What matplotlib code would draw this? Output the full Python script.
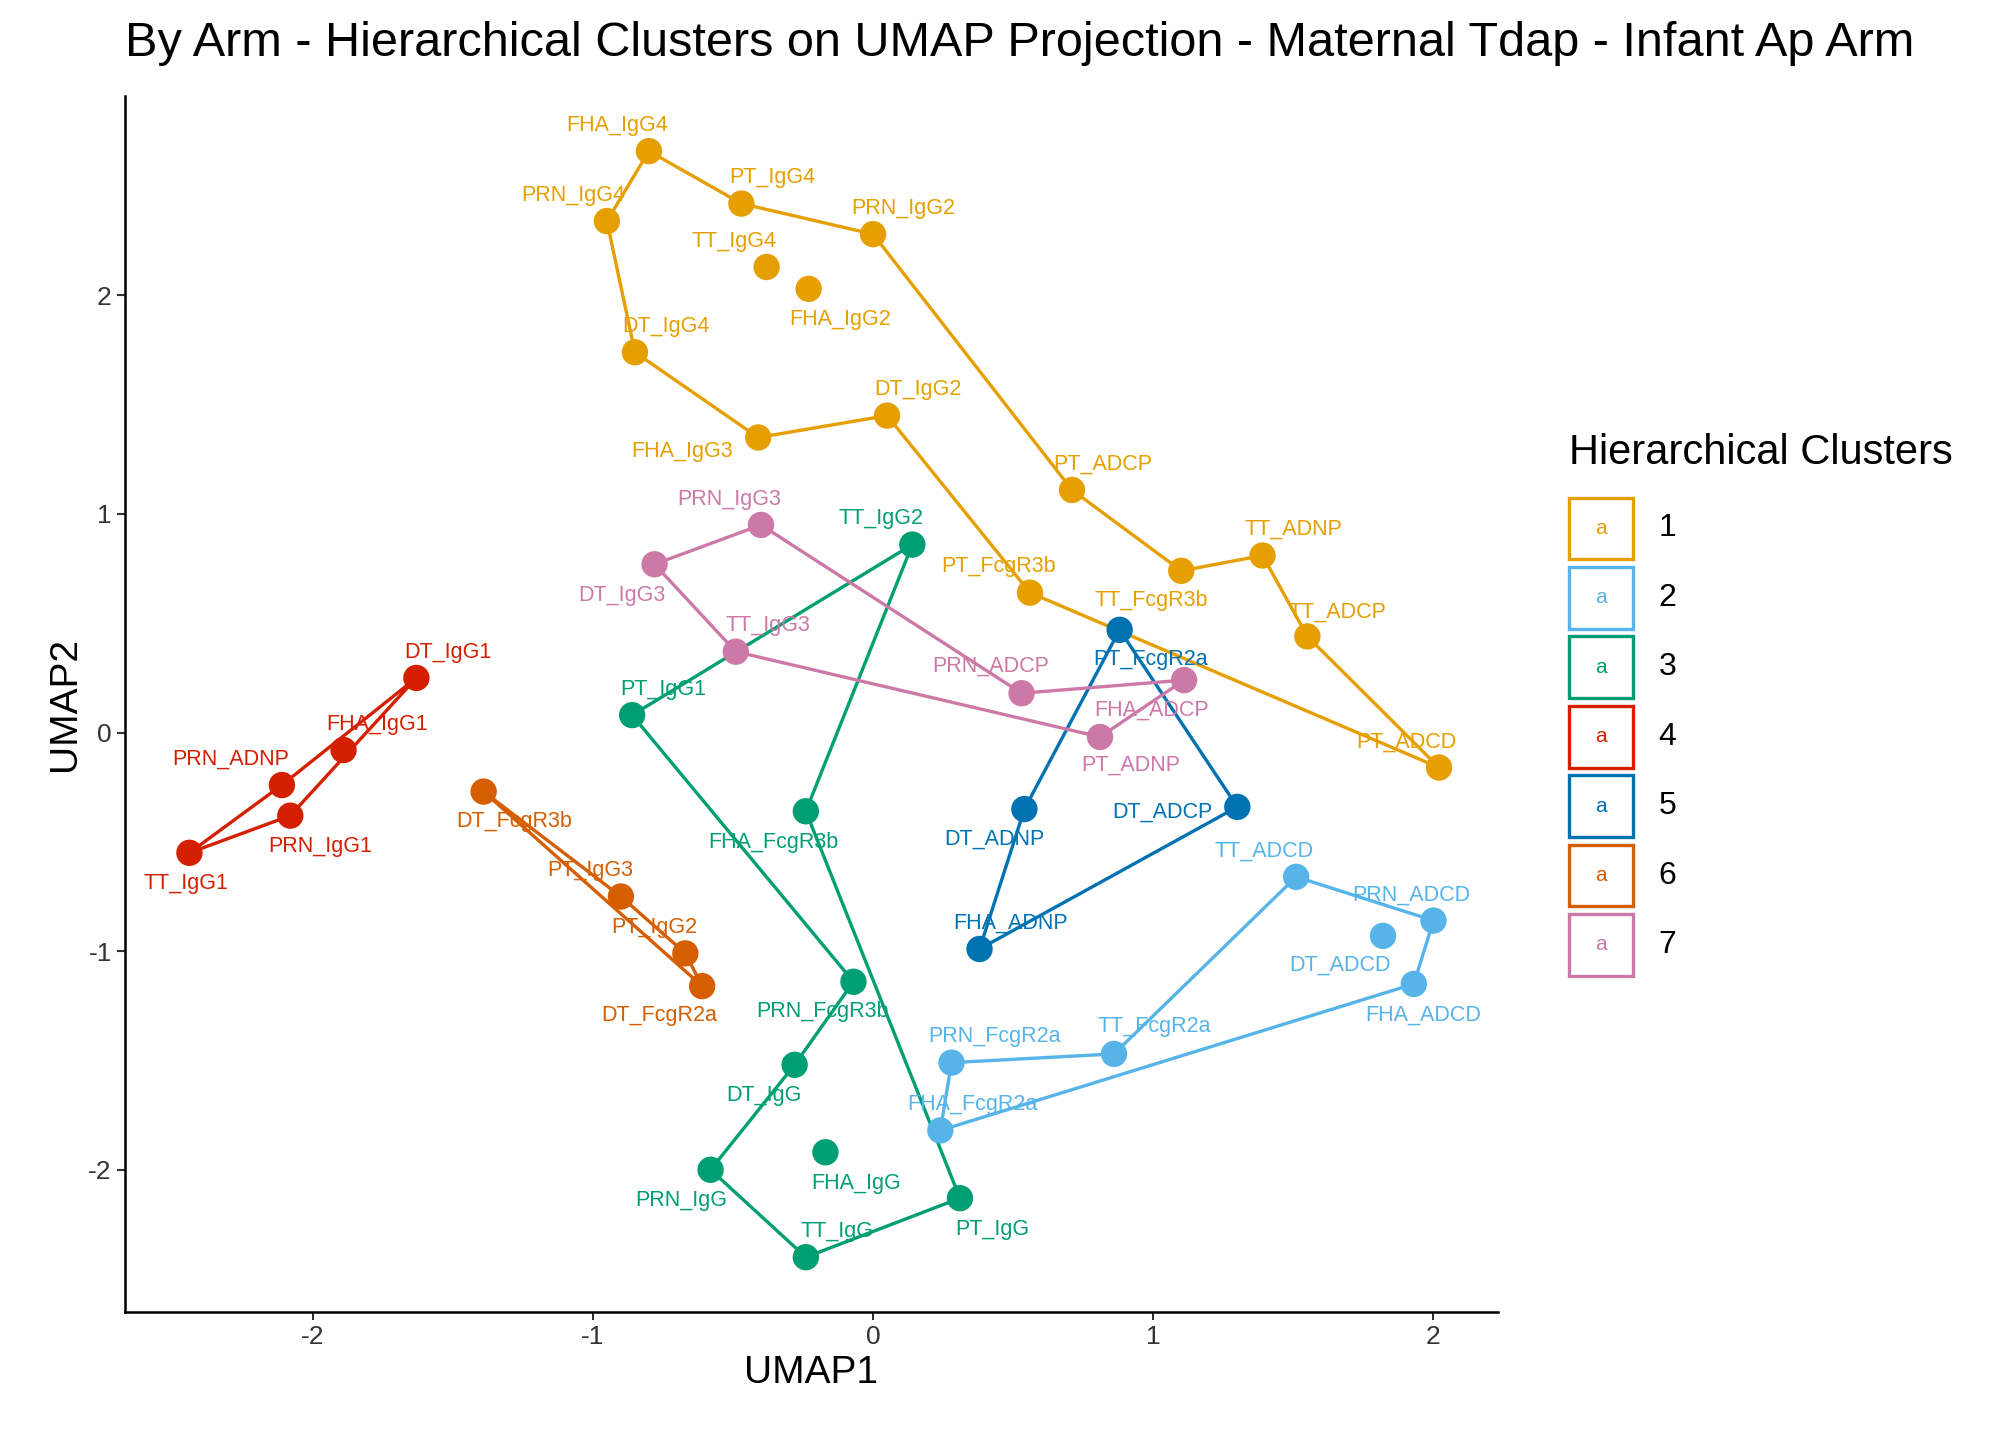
import matplotlib.pyplot as plt
import matplotlib.patches as mpatches
import numpy as np

plt.rcParams['font.family'] = ['Liberation Sans', 'DejaVu Sans']
plt.rcParams['axes.unicode_minus'] = False

# ---------------- data ----------------
names = ["FHA_IgG4", "PT_IgG4", "PRN_IgG4", "PRN_IgG2", "TT_IgG4", "FHA_IgG2", "DT_IgG4",
         "DT_IgG2", "FHA_IgG3", "PT_ADCP", "TT_ADNP", "TT_FcgR3b", "PT_FcgR3b", "TT_ADCP", "PT_ADCD",
         "TT_ADCD", "PRN_ADCD", "DT_ADCD", "FHA_ADCD", "TT_FcgR2a", "PRN_FcgR2a", "FHA_FcgR2a",
         "TT_IgG2", "PT_IgG1", "FHA_FcgR3b", "PRN_FcgR3b", "DT_IgG", "FHA_IgG", "PRN_IgG", "PT_IgG", "TT_IgG",
         "DT_IgG1", "FHA_IgG1", "PRN_ADNP", "PRN_IgG1", "TT_IgG1",
         "PT_FcgR2a", "DT_ADNP", "DT_ADCP", "FHA_ADNP",
         "DT_FcgR3b", "PT_IgG3", "PT_IgG2", "DT_FcgR2a",
         "PRN_IgG3", "DT_IgG3", "TT_IgG3", "PRN_ADCP", "PT_ADNP", "FHA_ADCP"]
umap1 = [-0.80, -0.47, -0.95, 0.00, -0.38, -0.23, -0.85, 0.05, -0.41, 0.71, 1.39, 1.10, 0.56, 1.55, 2.02,
         1.51, 2.00, 1.82, 1.93, 0.86, 0.28, 0.24,
         0.14, -0.86, -0.24, -0.07, -0.28, -0.17, -0.58, 0.31, -0.24,
         -1.63, -1.89, -2.11, -2.08, -2.44,
         0.88, 0.54, 1.30, 0.38,
         -1.39, -0.90, -0.67, -0.61,
         -0.40, -0.78, -0.49, 0.53, 0.81, 1.11]
umap2 = [2.66, 2.42, 2.34, 2.28, 2.13, 2.03, 1.74, 1.45, 1.35, 1.11, 0.81, 0.74, 0.64, 0.44, -0.16,
         -0.66, -0.86, -0.93, -1.15, -1.47, -1.51, -1.82,
         0.86, 0.08, -0.36, -1.14, -1.52, -1.92, -2.00, -2.13, -2.40,
         0.25, -0.08, -0.24, -0.38, -0.55,
         0.47, -0.35, -0.34, -0.99,
         -0.27, -0.75, -1.01, -1.16,
         0.95, 0.77, 0.37, 0.18, -0.02, 0.24]
cluster = [1] * 15 + [2] * 7 + [3] * 9 + [4] * 5 + [5] * 4 + [6] * 4 + [7] * 6

# outline vertex order per cluster
outlines = {
    1: ["PRN_IgG4", "FHA_IgG4", "PT_IgG4", "PRN_IgG2", "PT_ADCP", "TT_FcgR3b", "TT_ADNP",
        "TT_ADCP", "PT_ADCD", "PT_FcgR3b", "DT_IgG2", "FHA_IgG3", "DT_IgG4"],
    2: ["TT_ADCD", "PRN_ADCD", "FHA_ADCD", "FHA_FcgR2a", "PRN_FcgR2a", "TT_FcgR2a"],
    3: ["TT_IgG2", "PT_IgG1", "PRN_FcgR3b", "DT_IgG", "PRN_IgG", "TT_IgG", "PT_IgG", "FHA_FcgR3b"],
    4: ["TT_IgG1", "PRN_ADNP", "DT_IgG1", "PRN_IgG1"],
    5: ["PT_FcgR2a", "DT_ADCP", "FHA_ADNP", "DT_ADNP"],
    6: ["DT_FcgR3b", "DT_FcgR2a", "PT_IgG2", "PT_IgG3"],
    7: ["DT_IgG3", "PRN_IgG3", "PRN_ADCP", "FHA_ADCP", "PT_ADNP", "TT_IgG3"],
}

colors = {1: "#E69F00", 2: "#56B4E9", 3: "#009E73", 4: "#D41F00",
          5: "#0072B2", 6: "#D55E00", 7: "#CC79A7"}

# label offsets (pixels in the 1568-wide view, y down)
label_off = {
    "FHA_IgG4": (-25, -20), "PT_IgG4": (24, -20), "PRN_IgG4": (-26, -20), "PRN_IgG2": (23, -20),
    "TT_IgG4": (-25, -20), "FHA_IgG2": (24, 24), "DT_IgG4": (24, -20), "DT_IgG2": (24, -20),
    "FHA_IgG3": (-59, 11), "PT_ADCP": (24, -20), "TT_ADNP": (24, -20), "TT_FcgR3b": (-23, 23),
    "PT_FcgR3b": (-24, -20), "TT_ADCP": (23, -19), "PT_ADCD": (-25, -20), "TT_ADCD": (-25, -20),
    "PRN_ADCD": (-17, -20), "DT_ADCD": (-33, 23), "FHA_ADCD": (7, 24), "TT_FcgR2a": (31, -21),
    "PRN_FcgR2a": (33, -20), "FHA_FcgR2a": (25, -20), "TT_IgG2": (-24, -20), "PT_IgG1": (24, -20),
    "FHA_FcgR3b": (-25, 24), "PRN_FcgR3b": (-24, 23), "DT_IgG": (-24, 24), "FHA_IgG": (24, 24),
    "PRN_IgG": (-23, 24), "PT_IgG": (25, 24), "TT_IgG": (24, -20), "DT_IgG1": (24, -20),
    "FHA_IgG1": (26, -20), "PRN_ADNP": (-40, -20), "PRN_IgG1": (23, 24), "TT_IgG1": (-3, 24),
    "PT_FcgR2a": (24, 23), "DT_ADNP": (-23, 23), "DT_ADCP": (-58, 4), "FHA_ADNP": (24, -20),
    "DT_FcgR3b": (24, 23), "PT_IgG3": (-24, -20), "PT_IgG2": (-24, -20), "DT_FcgR2a": (-33, 23),
    "PRN_IgG3": (-25, -20), "DT_IgG3": (-25, 24), "TT_IgG3": (25, -20), "PRN_ADCP": (-24, -21),
    "PT_ADNP": (24, 22), "FHA_ADCP": (-25, 23),
}

# ---------------- plot ----------------
fig = plt.figure(figsize=(20.16, 14.4), dpi=100)
ax = fig.add_axes([0.062, 0.089, 0.681, 0.844])

x = np.array(umap1)
y = np.array(umap2)
cl = np.array(cluster)
idx = {n: i for i, n in enumerate(names)}

for c in range(1, 8):
    m = cl == c
    order = outlines[c] + [outlines[c][0]]
    ax.plot([umap1[idx[n]] for n in order], [umap2[idx[n]] for n in order],
            color=colors[c], lw=2.4, zorder=2)
    ax.scatter(x[m], y[m], s=360, color=colors[c], zorder=3, edgecolors="none")

k = 0.93
for n, xi, yi, c in zip(names, umap1, umap2, cluster):
    dx, dy = label_off[n]
    ax.annotate(n, (xi, yi), xytext=(dx * k, -dy * k), textcoords="offset points",
                ha="center", va="center", fontsize=15.5, color=colors[c], zorder=4)

ax.set_xlim(-2.67, 2.23)
ax.set_ylim(-2.65, 2.91)
ax.set_xticks([-2, -1, 0, 1, 2])
ax.set_yticks([-2, -1, 0, 1, 2])
ax.tick_params(labelsize=19, length=6, width=1.5, colors="#333333")
for s in ["top", "right"]:
    ax.spines[s].set_visible(False)
for s in ["left", "bottom"]:
    ax.spines[s].set_linewidth(1.8)
ax.set_xlabel("UMAP1", fontsize=28)
ax.set_ylabel("UMAP2", fontsize=28)

fig.text(0.062, 0.97, "By Arm - Hierarchical Clusters on UMAP Projection - Maternal Tdap - Infant Ap Arm",
         fontsize=35, va="center", ha="left")

# legend
W, H = 1568.0, 1120.0
fig.text(1220 / W, 1 - 352 / H, "Hierarchical Clusters", fontsize=30, va="center", ha="left")
for i in range(7):
    c = i + 1
    cy = 411 + 54 * i
    rect = mpatches.Rectangle((1220 / W, 1 - (cy + 24) / H), 50 / W, 48 / H,
                              transform=fig.transFigure, fill=False,
                              edgecolor=colors[c], lw=2.4)
    fig.patches.append(rect)
    fig.text(1245 / W, 1 - cy / H, "a", fontsize=15, color=colors[c], ha="center", va="center")
    fig.text(1290 / W, 1 - cy / H, str(c), fontsize=23, ha="left", va="center")

fig.savefig("out.png", dpi=100)
